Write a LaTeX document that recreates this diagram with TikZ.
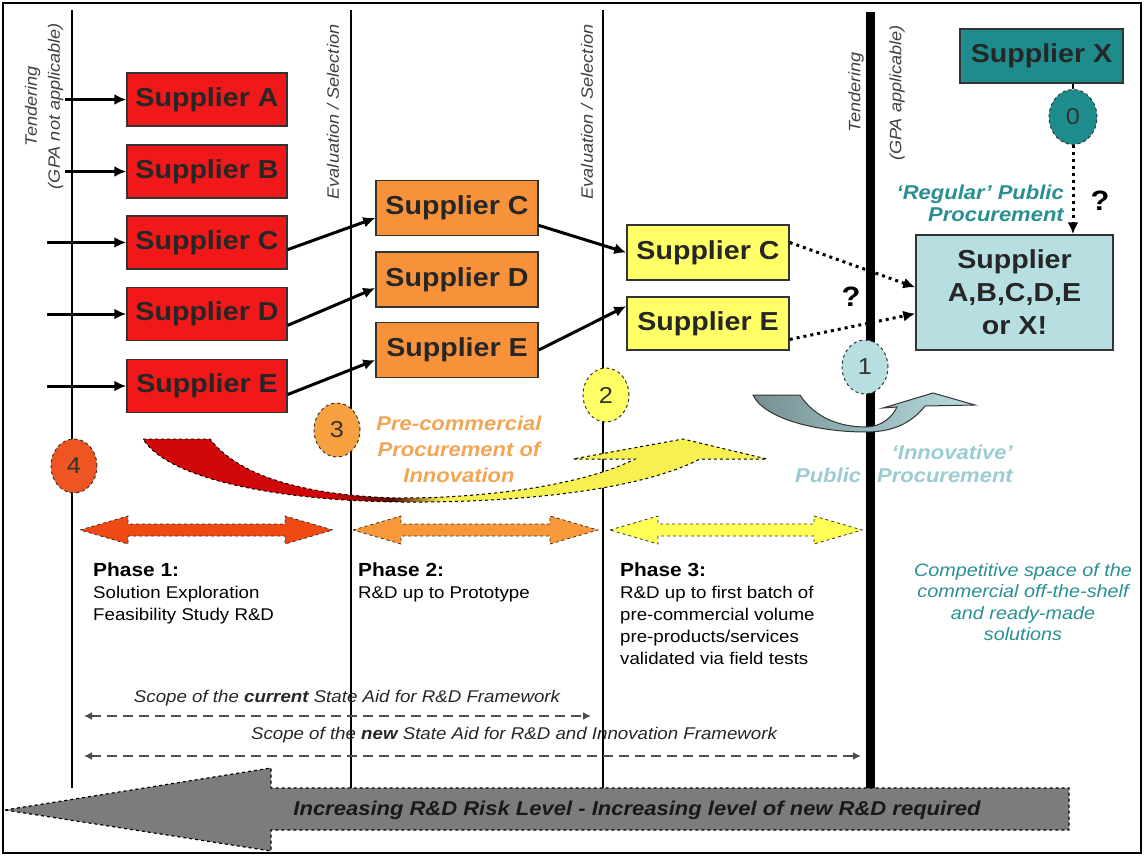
\documentclass[tikz,border=0pt]{standalone}
\usepackage{fontspec}
\setmainfont[FakeStretch=1.1]{Liberation Sans}
\usetikzlibrary{arrows.meta,shapes.geometric}
\definecolor{redbox}{HTML}{F01818}
\definecolor{orbox}{HTML}{F7923A}
\definecolor{yebox}{HTML}{FFFF66}
\definecolor{tealbox}{HTML}{1E8C8C}
\definecolor{bluebox}{HTML}{B7DEE1}
\definecolor{ph1col}{HTML}{F04A14}
\definecolor{ph2col}{HTML}{F7983A}
\definecolor{ph3col}{HTML}{FFFF55}
\definecolor{c4col}{HTML}{EE5522}
\definecolor{c3col}{HTML}{F7A040}
\definecolor{tealtxt}{HTML}{2A8F92}
\definecolor{lbtxt}{HTML}{9ACCD2}
\definecolor{ortxt}{HTML}{F2A555}
\definecolor{grayarr}{HTML}{7C7C7C}
\definecolor{cvred}{HTML}{D00808}
\definecolor{cvdark}{HTML}{5A0A00}
\definecolor{cvyel}{HTML}{F6F050}
\pgfdeclarehorizontalshading{redyel}{100bp}{color(0bp)=(cvred); color(40bp)=(cvred); color(45bp)=(cvdark); color(49bp)=(cvyel); color(100bp)=(cvyel)}
\tikzset{supp/.style={draw=black!80,line width=1.5pt,minimum width=160pt,minimum height=53pt,inner sep=0pt,text=black!85,font=\fontsize{26}{33}\selectfont\bfseries},
  num/.style={ellipse,draw=black!80,dashed,line width=1pt,minimum width=46pt,minimum height=54pt,inner sep=0pt,text=black!80,font=\fontsize{23}{26}\selectfont},
  arr/.style={line width=3pt,-{Latex[length=12pt,width=11pt]}},
  dotarr/.style={line width=3pt,dash pattern=on 3pt off 4pt,-{Latex[length=12pt,width=11pt]}},
  scope/.style={line width=2.5pt,gray!60!black,dash pattern=on 10pt off 6pt,{Latex[length=8pt,width=8pt]}-{Latex[length=8pt,width=8pt]}},
  vlab/.style={rotate=90,inner sep=0pt,text=black!75,font=\fontsize{16.5}{23}\selectfont\itshape},
  phase/.style={anchor=north west,align=left,inner sep=0pt,font=\fontsize{17}{22}\selectfont}}

\begin{document}
\begin{tikzpicture}[x=1pt,y=-1pt]
\useasboundingbox (0,0) rectangle (1144,857);
\draw[line width=2pt] (3,3) rectangle (1141,853);
\foreach \x in {72,351,603} \draw[line width=1.6pt] (\x,10) -- (\x,788);
\draw[line width=9pt] (870,12) -- (870,788);

\node[vlab,align=center] (tend1) at (44,106) {Tendering\\(GPA not applicable)};
\node[vlab] (eval1) at (333,112) {Evaluation / Selection};
\node[vlab] (eval2) at (587,112) {Evaluation / Selection};
\node[vlab] (tend2) at (856,92) {Tendering};
\node[vlab] (gpa2) at (897,93) {(GPA applicable)};

\foreach \s/\y in {A/99.5,B/171.5,C/242.5,D/314,E/386}
  \node[supp,fill=redbox] (r\s) at (207,\y) {Supplier \s};
\foreach \s/\y in {C/208,D/279.5,E/350}
  \node[supp,fill=orbox,minimum width=162pt,minimum height=55pt] (o\s) at (457,\y) {Supplier \s};
\node[supp,fill=yebox,minimum width=162pt,minimum height=55pt] (yC) at (708,252.5) {Supplier C};
\node[supp,fill=yebox,minimum width=162pt] (yE) at (708,323.5) {Supplier E};
\node[supp,fill=tealbox,minimum width=163pt,minimum height=54pt] (sX) at (1041.5,56) {Supplier X};
\node[supp,fill=bluebox,minimum width=197pt,minimum height=115pt,align=center] (sAll) at (1014.5,292.5) {Supplier\\A,B,C,D,E\\or X!};

\foreach \s/\x in {A/65,B/65,C/47,D/47,E/47}{
  \coordinate (in\s) at (r\s.west -| \x,0);
  \draw[arr] (in\s) -- (r\s.west);}
\draw[arr] (rC.-5) -- (oC.187);
\draw[arr] (rD.-8) -- (oD.186);
\draw[arr] (rE.-6) -- (oE.187);
\draw[arr] (oC.-12) -- (yC.west);
\draw[arr] (oE.east) -- (yE.168);
\draw[dotarr] (yC.7) -- (sAll.177);
\draw[dotarr] (yE.-11) -- (sAll.192);

\node[num,fill=c4col] (c4) at (74,466) {4};
\node[num,fill=c3col] (c3) at (337,430) {3};
\node[num,fill=yebox] (c2) at (606,395) {2};
\node[num,fill=bluebox] (c1) at (865,367) {1};
\node[num,fill=tealbox,minimum width=48pt,minimum height=55pt] (c0) at (1073,117) {0};
\draw[line width=1.5pt] (sX.south -| c0.north) -- (c0.north);
\draw[dotarr] (c0.south) -- (c0.south |- sAll.north);
\node[font=\fontsize{28}{30}\selectfont\bfseries] (q1) at (1100,201) {?};
\node[font=\fontsize{28}{30}\selectfont\bfseries] (q2) at (851,297) {?};

\node[anchor=east,align=right,inner sep=0pt,text=tealtxt,font=\fontsize{20}{22}\selectfont\bfseries\itshape] (regular) at (1064,203) {`Regular' Public\\Procurement};

\shadedraw[shading=redyel,draw=black,dashed,line width=1pt]
  (143,439) -- (210,439) .. controls (240,478) and (310,496) .. (400,498)
  .. controls (500,498) and (590,482) .. (635,459) -- (573,459) -- (683,439) -- (767,459) -- (700,459)
  .. controls (640,490) and (520,503) .. (400,502) .. controls (290,501) and (170,482) .. (143,439) -- cycle;
\shadedraw[left color=black!35!bluebox,right color=bluebox,draw=black!80,line width=1pt]
  (753,395) -- (800,395) .. controls (815,418) and (840,427) .. (866,427)
  .. controls (880,427) and (892,418) .. (897,407) -- (883,408) -- (933,393) -- (975,405) -- (925,406)
  .. controls (910,425) and (890,432) .. (866,432) .. controls (820,432) and (765,420) .. (753,395) -- cycle;

\node[align=center,text=ortxt,font=\fontsize{20}{26}\selectfont\bfseries\itshape] (pcp) at (459,449) {Pre-commercial\\Procurement of\\Innovation};
\node[anchor=east,align=right,inner sep=0pt,text=lbtxt,font=\fontsize{20}{23}\selectfont\bfseries\itshape] (ipp) at (1013,464) {`Innovative'\\Public\hspace{16pt}Procurement};

\foreach \a/\b/\c in {80/333/ph1col,353/598/ph2col,610/862/ph3col}
  \filldraw[fill=\c,draw=black!80,dashed,line width=0.8pt] (\a,530) -- (\a+48,516) -- (\a+48,524) -- (\b-48,524) -- (\b-48,516)
    -- (\b,530) -- (\b-48,544) -- (\b-48,536) -- (\a+48,536) -- (\a+48,544) -- cycle;

\node[phase] (ph1) at (93,563) {{\fontsize{19}{22}\selectfont\bfseries Phase 1:}\\Solution Exploration\\Feasibility Study R\&D};
\node[phase] (ph2) at (358,563) {{\fontsize{19}{22}\selectfont\bfseries Phase 2:}\\R\&D up to Prototype};
\node[phase] (ph3) at (620,563) {{\fontsize{19}{22}\selectfont\bfseries Phase 3:}\\R\&D up to first batch of\\pre-commercial volume\\pre-products/services\\validated via field tests};
\node[align=center,text=tealtxt,font=\fontsize{18}{21.5}\selectfont\itshape] (cots) at (1023,602) {Competitive space of the\\commercial off-the-shelf\\and ready-made\\solutions};

\node[font=\fontsize{17}{20}\selectfont\itshape,text=black!85] (scope1) at (347,698) {Scope of the \textbf{current} State Aid for R\&D Framework};
\node[font=\fontsize{17}{20}\selectfont\itshape,text=black!85] (scope2) at (514,735) {Scope of the \textbf{new} State Aid for R\&D and Innovation Framework};
\coordinate (s1a) at (84,716); \coordinate (s1b) at (591,716);
\coordinate (s2a) at (84,756); \coordinate (s2b) at (861,756);
\draw[scope] (s1a) -- (s1b);
\draw[scope] (s2a) -- (s2b);

\filldraw[fill=grayarr,draw=black,dashed,line width=1.2pt] (5,810) -- (271,768) -- (271,788) -- (1069,788) -- (1069,830) -- (271,830) -- (271,851) -- cycle;
\node[font=\fontsize{20}{24}\selectfont\bfseries\itshape,text=black!90] (risk) at (637,810) {Increasing R\&D Risk Level - Increasing level of new R\&D required};
\end{tikzpicture}
\end{document}
